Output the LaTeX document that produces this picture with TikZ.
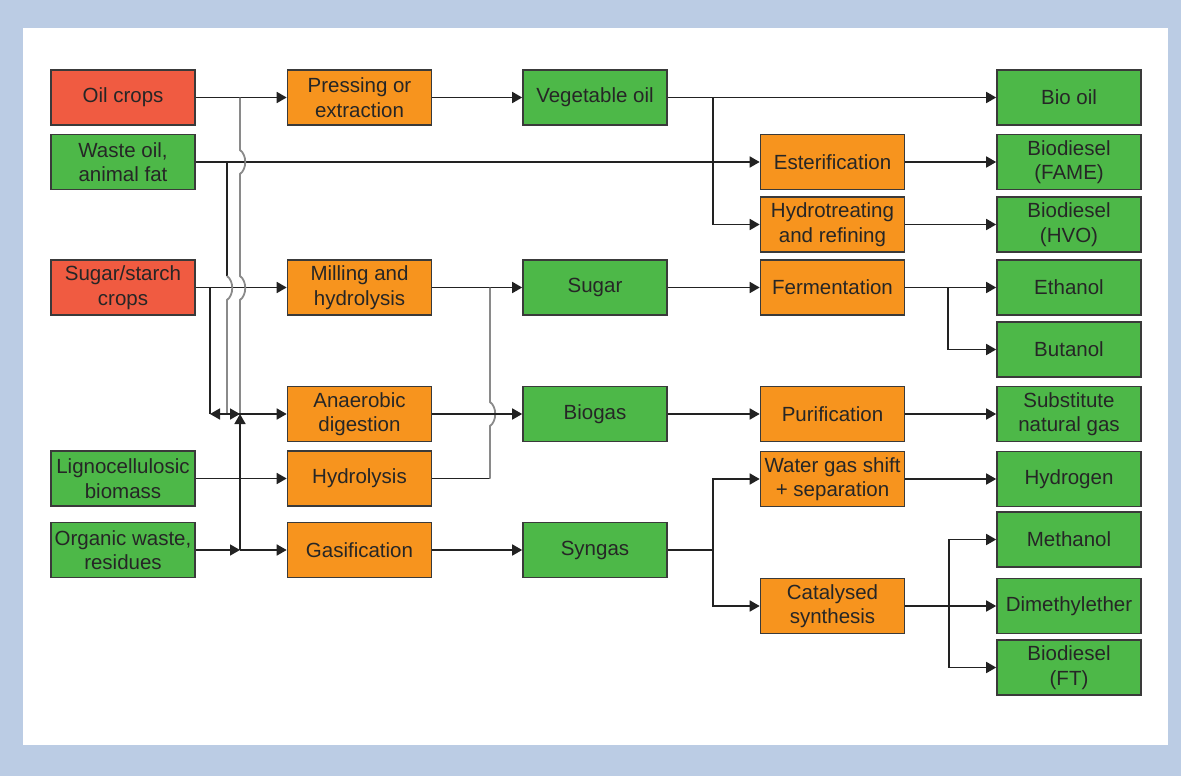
\documentclass[tikz,border=0pt]{standalone}
\usepackage{fontspec}
\setmainfont{Liberation Sans}
\usetikzlibrary{arrows.meta,calc}
\definecolor{bgblue}{HTML}{BBCCE4}
\definecolor{cred}{HTML}{F05B41}
\definecolor{cgreen}{HTML}{4DB848}
\definecolor{corange}{HTML}{F7941E}
\definecolor{boxline}{HTML}{3A3A3A}
\definecolor{txt}{HTML}{262626}
\definecolor{ln}{HTML}{222222}
\definecolor{gl}{HTML}{8A8A8A}
\begin{document}
\begin{tikzpicture}[x=1pt,y=-1pt,
  box/.style={draw=boxline, line width=1.6pt, minimum width=144pt, minimum height=55pt,
    inner sep=0pt, align=center, text=txt, font=\fontsize{20.5}{24.5}\selectfont},
  redbox/.style={box, fill=cred},
  greenbox/.style={box, fill=cgreen},
  orangebox/.style={box, fill=corange},
  conn/.style={line width=1.6pt, draw=ln},
  arr/.style={conn, -{Triangle[length=10pt,width=11pt]}},
  gconn/.style={line width=1.8pt, draw=gl}
]
\useasboundingbox (0,0) rectangle (1181,776);
\fill[bgblue] (0,0) rectangle (1181,776);
\fill[white] (23,28) rectangle (1168,745);

% column 1
\node[redbox]   (oil)    at (123,97.5)  {Oil crops};
\node[greenbox] (waste)  at (123,162)   {Waste oil,\\animal fat};
\node[redbox]   (sugarc) at (123,287.5) {Sugar/starch\\crops};
\node[greenbox] (ligno)  at (123,478.5) {Lignocellulosic\\biomass};
\node[greenbox] (org)    at (123,550)   {Organic waste,\\residues};
% column 2
\node[orangebox] (press) at (359.5,97.5)  {Pressing or\\extraction};
\node[orangebox] (mill)  at (359.5,287.5) {Milling and\\hydrolysis};
\node[orangebox] (anaer) at (359.5,414)   {Anaerobic\\digestion};
\node[orangebox] (hydro) at (359.5,478.5) {Hydrolysis};
\node[orangebox] (gasif) at (359.5,550)   {Gasification};
% column 3
\node[greenbox] (vegoil) at (595,97.5)  {Vegetable oil};
\node[greenbox] (sugar)  at (595,287.5) {Sugar};
\node[greenbox] (biogas) at (595,414)   {Biogas};
\node[greenbox] (syngas) at (595,550)   {Syngas};
% column 4
\node[orangebox] (ester) at (832.5,162)   {Esterification};
\node[orangebox] (hvo)   at (832.5,224.5) {Hydrotreating\\and refining};
\node[orangebox] (ferm)  at (832.5,287.5) {Fermentation};
\node[orangebox] (purif) at (832.5,414)   {Purification};
\node[orangebox] (wgs)   at (832.5,479)   {Water gas shift\\+ separation};
\node[orangebox] (cat)   at (832.5,606)   {Catalysed\\synthesis};
% column 5
\node[greenbox] (biooil)  at (1069,97.5)  {Bio oil};
\node[greenbox] (fame)    at (1069,162)   {Biodiesel\\(FAME)};
\node[greenbox] (hvoout)  at (1069,224.5) {Biodiesel\\(HVO)};
\node[greenbox] (ethanol) at (1069,287.5) {Ethanol};
\node[greenbox] (butanol) at (1069,349.5) {Butanol};
\node[greenbox] (sng)     at (1069,414)   {Substitute\\natural gas};
\node[greenbox] (hydrogen) at (1069,479) {Hydrogen};
\node[greenbox] (methanol) at (1069,539.5) {Methanol};
\node[greenbox] (dme)     at (1069,606)   {Dimethylether};
\node[greenbox] (ft)      at (1069,667.5) {Biodiesel\\(FT)};

% junction coordinates
\coordinate (jo)   at (240,97.5);
\coordinate (jw)   at (227,162);
\coordinate (js)   at (210,287.5);
\coordinate (jsb)  at (210,414);
\coordinate (jwb)  at (227,414);
\coordinate (ja)   at (240,414);
\coordinate (jorg) at (240,550);
\coordinate (jh)   at (490,478.5);
\coordinate (jm)   at (490,287.5);
\coordinate (jv)   at (713,97.5);
\coordinate (jf)   at (948,287.5);
\coordinate (jsg)  at (713,550);
\coordinate (jc)   at (949,606);

% left side
\draw[arr] (oil) -- (press);
\draw[arr] (waste) -- (ester);
\draw[arr] (sugarc) -- (mill);
\draw[arr] (ligno) -- (hydro);
\draw[arr] (org.east) -- (jorg);
\draw[arr] (jorg) -- (gasif.west);
\draw[conn] (js) -- (jsb);
\draw[gconn] (jo) -- (240,150) .. controls (247,155) and (247,169) .. (240,174)
  -- (240,276) .. controls (247,281) and (247,295) .. (240,300) -- (ja);
\draw[conn] (jw) -- (227,276);
\draw[gconn] (227,276) .. controls (234,281) and (234,295) .. (227,300) -- (jwb);
\draw[arr] (ja) -- (jsb);
\draw[arr] (jwb) -- (ja);
\draw[arr] (jorg) -- (ja);
\draw[arr] (ja) -- (anaer.west);

% middle
\draw[arr] (press) -- (vegoil);
\draw[arr] (mill) -- (sugar);
\draw[conn] (hydro.east) -- (jh);
\draw[gconn] (jh) -- (490,426) .. controls (497,421) and (497,407) .. (490,402) -- (jm);
\draw[arr] (anaer) -- (biogas);
\draw[arr] (gasif) -- (syngas);

% right side
\draw[arr] (vegoil) -- (biooil);
\draw[arr] (jv) |- (hvo.west);
\draw[arr] (ester) -- (fame);
\draw[arr] (hvo) -- (hvoout);
\draw[arr] (sugar) -- (ferm);
\draw[arr] (ferm) -- (ethanol);
\draw[arr] (jf) |- (butanol.west);
\draw[arr] (biogas) -- (purif);
\draw[arr] (purif) -- (sng);
\draw[arr] (wgs) -- (hydrogen);
\draw[conn] (syngas.east) -- (jsg);
\draw[arr] (jsg) |- (wgs.west);
\draw[arr] (jsg) |- (cat.west);
\draw[arr] (cat) -- (dme);
\draw[arr] (jc) |- (methanol.west);
\draw[arr] (jc) |- (ft.west);
\end{tikzpicture}
\end{document}
